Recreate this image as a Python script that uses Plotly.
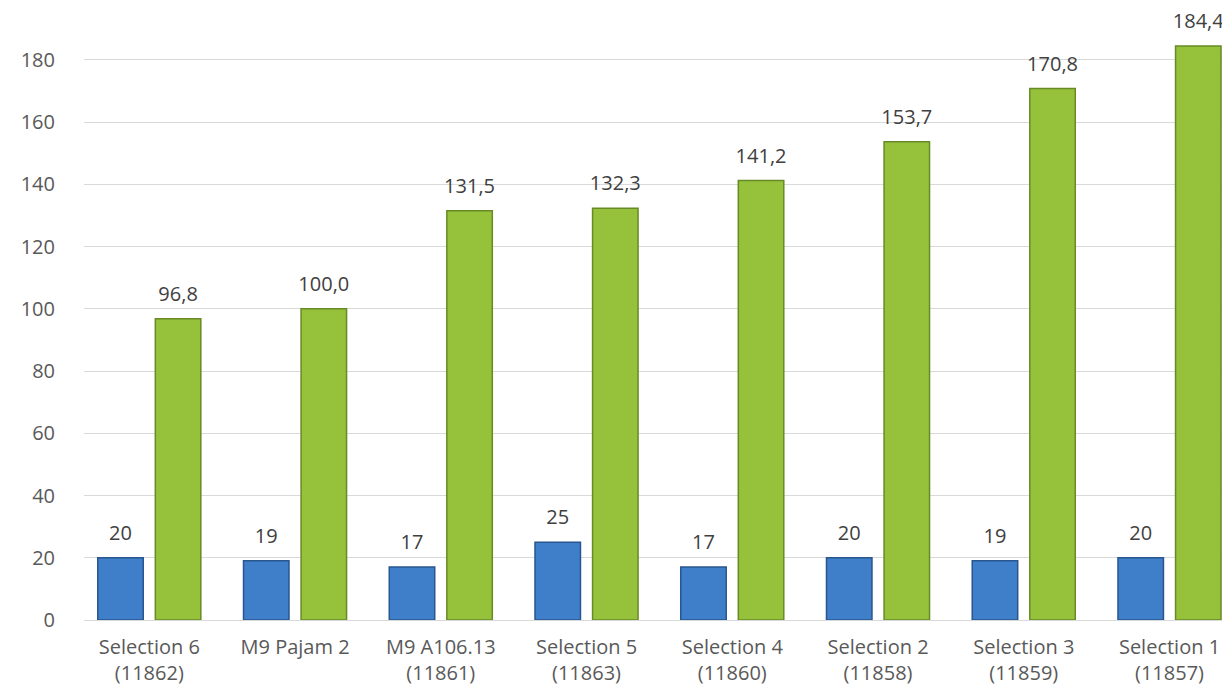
# bar chart: two series per rootstock, labels with comma decimals
import plotly.graph_objects as go

categories = ["Selection 6<br>(11862)", "M9 Pajam 2", "M9 A106.13<br>(11861)",
              "Selection 5<br>(11863)", "Selection 4<br>(11860)", "Selection 2<br>(11858)",
              "Selection 3<br>(11859)", "Selection 1<br>(11857)"]
blue_vals = [20, 19, 17, 25, 17, 20, 19, 20]
green_vals = [96.8, 100.0, 131.5, 132.3, 141.2, 153.7, 170.8, 184.4]

font_fam = "'Open Sans', sans-serif"

fig = go.Figure()

fig.add_trace(go.Bar(
    x=categories, y=blue_vals, offsetgroup="a",
    marker=dict(color="#3f7ec8", line=dict(color="#28568e", width=1.5)),
    name="blue"
))
fig.add_trace(go.Bar(
    x=categories, y=green_vals, offsetgroup="b",
    marker=dict(color="#96c23b", line=dict(color="#688a26", width=1.5)),
    name="green"
))

# value labels, lifted a little above the bars
fig.add_trace(go.Scatter(
    x=categories, y=blue_vals, offsetgroup="a", mode="markers+text",
    marker=dict(size=19, opacity=0), texttemplate="%{y:.0f}",
    textposition="top center", textfont=dict(size=20, color="#404040", family=font_fam),
    cliponaxis=False, hoverinfo="skip"
))
fig.add_trace(go.Scatter(
    x=categories, y=green_vals, offsetgroup="b", mode="markers+text",
    marker=dict(size=19, opacity=0), texttemplate="%{y:.1f}",
    textposition="top center", textfont=dict(size=20, color="#404040", family=font_fam),
    cliponaxis=False, hoverinfo="skip"
))

fig.update_layout(
    width=1230, height=691,
    barmode="group", bargap=0.21, bargroupgap=0.21,
    scattermode="group", scattergap=0.21,
    separators=", ",
    showlegend=False,
    plot_bgcolor="white", paper_bgcolor="white",
    margin=dict(l=76, r=0, t=2, b=79),
    font=dict(family=font_fam, size=20, color="#595959"),
    xaxis=dict(range=[-0.448, 7.47], showline=True, linecolor="#d9d9d9", linewidth=1,
               ticks="", automargin=False, ticklabelstandoff=9,
               tickfont=dict(size=20, color="#595959")),
    yaxis=dict(range=[0, 196], dtick=20, tick0=0, showgrid=True, gridcolor="#d9d9d9",
               gridwidth=1, zeroline=False, ticks="", ticklabelstandoff=28,
               automargin=False, tickfont=dict(size=20, color="#595959")),
)

fig.write_html("out.html")
